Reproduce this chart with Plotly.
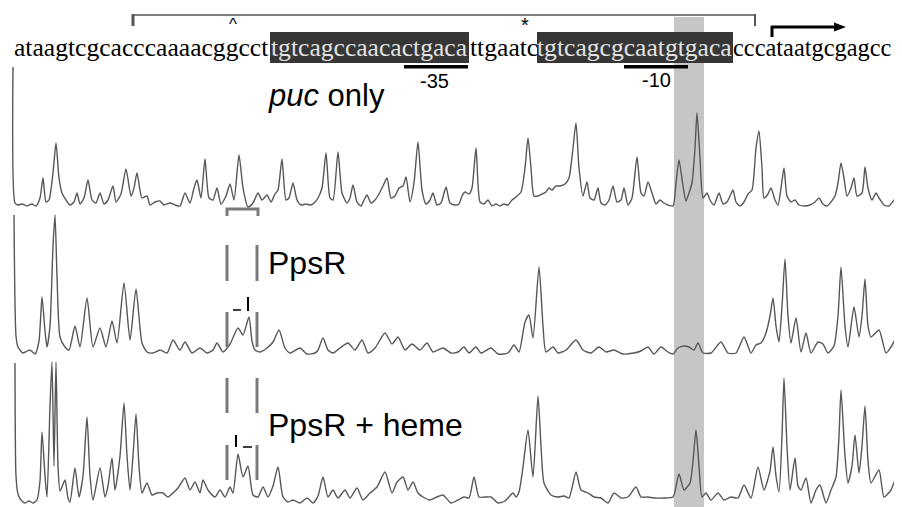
import plotly.graph_objects as go

W, H = 902, 507
OFF = 8  # page body margin of the html page

# ---- DNA sequence segments (plain / boxed) ----
seq_segments = ["ataagtcgcacccaaaacggcct", "tgtcagccaacactgaca", "ttgaatc",
                "tgtcagcgcaatgtgaca", "cccataatgcgagcc"]
seq_boxed = [False, True, False, True, False]
seq_starts = [14, 271, 470, 537, 733]
seq_sizes = [25.6, 25.6, 25.6, 25.6, 24.4]

row_labels = ["<i>puc</i> only", "PpsR", "PpsR + heme"]
promoter_labels = ["-35", "-10"]

# ---- electropherogram traces: position, signal ----
puc_x = [13,15,18,22,27,32,36,40,43,46,49,53,56,59,62,66,70,74,77,80,84,88,92,96,100,104,108,113,116,121,126,131,134,137,142,147,150,155,160,164,170,175,180,185,190,194,197,201,205,209,213,217,221,226,230,234,239,243,248,253,258,262,267,271,275,278,282,286,289,293,297,301,306,311,315,318,322,326,330,333,338,342,347,350,353,357,361,364,367,371,375,379,383,387,391,395,399,403,406,410,414,418,422,426,430,433,437,441,446,450,
         455,459,462,465,469,472,476,480,484,488,492,496,500,504,508,512,516,521,525,528,531,534,538,542,546,549,552,556,560,565,569,573,576,579,583,587,590,594,598,601,605,609,613,617,621,624,628,632,637,641,644,648,652,656,660,664,668,673,676,679,683,686,689,692,695,697,700,703,707,710,714,719,723,727,730,733,736,740,744,748,752,756,759,762,764,768,771,775,778,781,784,787,791,795,799,805,810,815,819,823,827,831,835,838,841,844,847,851,854,857,862,865,868,872,876,879,884,889,894,898,902]
puc_y = [141,5,3,4,2,4,2,10,30,6,8,35,65,30,15,8,3,6,15,4,10,28,8,5,15,4,8,22,6,14,39,12,20,35,10,12,3,6,7,3,5,3,2,15,5,20,28,10,49,10,8,20,4,12,24,8,53,20,1,5,15,8,13,6,14,18,49,8,10,25,8,3,4,3,6,10,20,55,10,8,56,15,5,10,23,6,2,8,13,5,8,14,22,30,10,12,20,22,31,6,25,66,18,4,8,15,3,5,21,5,
         3,4,12,16,14,20,60,6,4,8,2,4,2,4,3,8,11,16,40,70,40,12,12,14,16,20,18,22,22,24,30,60,85,40,12,26,10,8,20,5,3,8,22,6,8,20,3,10,51,15,12,26,15,4,8,5,3,2,25,48,22,7,15,25,60,95,50,10,15,8,3,15,4,6,12,18,6,2,6,14,18,60,77,40,10,14,20,8,3,20,40,12,6,8,3,2,3,6,10,4,2,6,12,25,45,30,12,20,30,12,15,41,20,8,15,10,3,2,8,12,8]

ppsr_x = [14,16,18,23,30,35,39,42,45,47,50,53,55,57,60,65,69,75,80,87,93,100,106,112,117,124,130,136,142,147,153,160,167,173,180,185,192,200,207,213,217,223,230,238,243,249,252,255,260,267,273,279,285,290,300,307,315,318,323,328,333,340,348,355,362,368,375,385,392,398,405,412,420,427,433,443,451,
          458,464,469,476,481,491,498,508,514,519,525,529,533,539,543,546,553,558,566,576,583,591,599,606,614,623,634,641,648,654,661,668,673,678,684,689,694,698,703,711,721,728,736,744,751,756,761,766,770,773,776,779,782,785,788,791,796,801,806,811,818,823,828,834,838,841,845,848,854,859,862,865,868,871,879,886,891,897,902]
ppsr_y = [141,20,9,3,6,2,15,59,25,9,30,110,141,80,19,9,6,30,9,58,9,28,9,35,13,73,16,67,13,4,3,6,3,16,6,14,3,8,3,6,13,4,12,28,21,39,15,6,4,8,14,26,8,3,8,2,3,6,18,6,3,8,13,6,16,3,8,23,12,19,6,12,6,13,4,8,3,
          4,9,3,9,3,8,2,3,11,4,34,41,18,89,30,4,9,3,6,16,6,3,9,4,6,2,3,5,9,2,9,4,2,8,10,9,6,13,3,3,14,3,3,19,3,11,13,23,40,58,30,14,50,97,40,13,38,4,23,3,14,12,3,10,40,89,30,9,49,19,40,77,30,19,26,3,9,19,9]

heme_x = [15,16,18,21,25,29,33,37,40,42,45,47,50,52,54,56,58,60,62,65,68,70,75,79,83,87,90,93,100,105,108,112,115,120,124,127,130,133,136,139,142,147,152,157,163,168,173,178,185,190,195,200,203,208,215,220,225,230,233,238,243,248,253,258,263,268,273,278,283,288,293,300,307,313,318,323,328,333,338,345,350,357,363,370,377,385,392,397,403,408,413,418,423,430,437,443,451,
          458,464,469,474,479,485,491,498,505,513,516,519,523,528,533,538,541,544,551,558,564,569,576,581,588,594,601,608,614,621,628,636,641,648,654,664,673,679,684,690,693,696,699,702,706,711,718,724,731,738,744,751,758,764,770,773,776,779,782,784,787,790,795,798,801,806,811,816,820,826,831,836,839,841,845,848,852,855,859,862,865,868,871,879,884,891,897,902]
heme_y = [143,30,12,6,3,5,3,6,25,74,30,9,100,144,40,144,40,15,19,26,8,4,38,9,30,89,30,6,38,9,20,48,16,50,103,50,16,50,92,40,13,23,11,13,13,9,13,18,28,16,24,13,26,16,9,16,9,19,13,52,29,40,11,9,19,9,20,39,9,4,6,3,8,3,10,29,9,16,8,16,8,18,6,13,19,34,13,24,29,16,24,13,9,6,9,11,3,
          6,9,8,29,9,9,9,3,5,13,9,14,39,76,29,110,60,23,11,9,10,8,34,16,13,9,8,3,13,8,9,19,9,9,8,8,9,32,16,23,45,76,40,9,13,6,13,6,9,8,21,8,39,16,35,59,30,14,70,128,60,16,48,20,16,28,3,16,21,3,16,29,70,116,50,23,40,71,33,60,100,45,23,36,9,16,30,16]

# ---- layout helpers (reference pixel -> paper, compensating the page margin) ----
def py(y):
    return 1 - (y - OFF) / H

def dom(bottom, top):
    return [py(bottom), min(1.0, py(top))]

fig = go.Figure()
line_style = dict(color="#575757", width=1.4, shape="spline", smoothing=0.6)
fig.add_trace(go.Scatter(x=puc_x, y=puc_y, mode="lines", line=line_style, yaxis="y", hoverinfo="skip"))
fig.add_trace(go.Scatter(x=ppsr_x, y=ppsr_y, mode="lines", line=line_style, yaxis="y2", hoverinfo="skip"))
fig.add_trace(go.Scatter(x=heme_x, y=heme_y, mode="lines", line=line_style, yaxis="y3", hoverinfo="skip"))

hidden = dict(visible=False, fixedrange=True)
fig.update_layout(
    width=W, height=H, margin=dict(l=0, r=0, t=0, b=0),
    paper_bgcolor="white", plot_bgcolor="rgba(0,0,0,0)", showlegend=False,
    xaxis=dict(range=[OFF, W + OFF], domain=[0, 1], **hidden),
    yaxis=dict(range=[0, 151], domain=dom(208, 57), **hidden),
    yaxis2=dict(range=[0, 148], domain=dom(356, 208), anchor="x", **hidden),
    yaxis3=dict(range=[0, 148], domain=dom(506, 358), anchor="x", **hidden),
)

shapes = []
def rect(x0, x1, y0, y1, color, layer="below"):
    shapes.append(dict(type="rect", xref="x", yref="paper", x0=x0, x1=x1, y0=py(y1), y1=py(y0),
                       fillcolor=color, line=dict(width=0), layer=layer))
def seg(x0, y0, x1, y1, color, width):
    shapes.append(dict(type="line", xref="x", yref="paper", x0=x0, x1=x1, y0=py(y0), y1=py(y1),
                       line=dict(color=color, width=width), layer="above"))

# grey highlighted column
rect(674, 704, 17, 520, "#c6c6c6")
# dark boxes behind boxed sequence
rect(270, 469, 32, 63, "#363636")
rect(537, 733, 32, 63, "#363636")
# top bracket
seg(133, 15, 755, 15, "#555555", 1.5)
seg(133, 14, 133, 26, "#555555", 3)
seg(755, 14, 755, 26, "#555555", 2)
# transcription start arrow
seg(772, 37, 772, 26, "black", 3)
seg(771, 27, 836, 27, "black", 3)
shapes.append(dict(type="path", xref="x", yref="paper",
                   path=f"M 834,{py(22.5)} L 846,{py(27)} L 834,{py(31.5)} Z",
                   fillcolor="black", line=dict(width=0)))
# -35 / -10 underlines
rect(404, 468, 65, 68.5, "black", "above")
rect(624, 688, 65, 68.5, "black", "above")
# bracket under puc trace
shapes.append(dict(type="path", xref="x", yref="paper",
                   path=f"M 227,{py(216)} L 227,{py(209)} L 258,{py(209)} L 258,{py(216)}",
                   line=dict(color="#7a7a7a", width=3)))
# footprint bars (PpsR and PpsR + heme)
for (a, b) in [(245, 281), (312, 347), (378, 413), (445, 480)]:
    rect(225.5, 228.5, a, b, "#7a7a7a", "above")
    rect(255.5, 258.5, a, b, "#7a7a7a", "above")
seg(233, 310, 241, 310, "black", 1.5)
seg(248, 297, 248, 311, "black", 2)
seg(236, 435, 236, 447, "black", 2)
seg(243, 447, 252, 447, "black", 1.5)

annotations = []
def txt(x, y, text, size, family="Liberation Sans, Arial", color="black", xanchor="left"):
    annotations.append(dict(x=x, y=py(y), xref="x", yref="paper", text=text, showarrow=False,
                            xanchor=xanchor, yanchor="middle",
                            font=dict(size=size, family=family, color=color), borderpad=0))

for s, boxed, x0, fs in zip(seq_segments, seq_boxed, seq_starts, seq_sizes):
    txt(x0 - 1, 47.5, s, fs, "Liberation Serif, Times New Roman", "#e2e2e2" if boxed else "black")

txt(233, 25, "^", 17, xanchor="center")
txt(525, 25.5, "*", 20, xanchor="center")
txt(434, 81, promoter_labels[0], 20, xanchor="center")
txt(656, 80, promoter_labels[1], 20, xanchor="center")
txt(267, 95, row_labels[0], 31)
txt(267, 263, row_labels[1], 32)
txt(267, 425, row_labels[2], 32)

fig.update_layout(shapes=shapes, annotations=annotations)
fig.write_html("out.html")
